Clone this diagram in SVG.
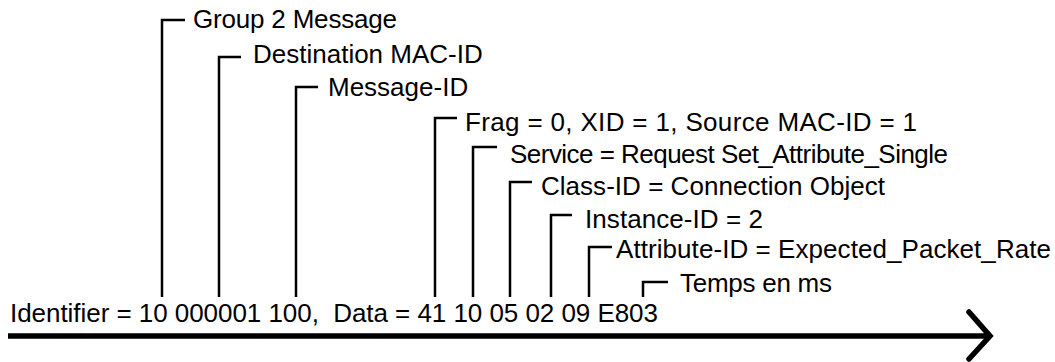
<svg xmlns="http://www.w3.org/2000/svg" width="1055" height="362" viewBox="0 0 1055 362">
<style>
.t{font-family:"Liberation Sans",Arial,sans-serif;font-size:26px;fill:#000;white-space:pre}
.b{fill:none;stroke:#000;stroke-width:2.5}
.a{fill:none;stroke:#000;stroke-width:5.5}
</style>
<rect width="1055" height="362" fill="#fff"/>
<g id="connectors">
<path class="b" d="M162,297V20H185"/>
<path class="b" d="M219,297V57H241"/>
<path class="b" d="M296,297V87H318"/>
<path class="b" d="M435,297V118H457"/>
<path class="b" d="M473,297V147H497"/>
<path class="b" d="M510,297V182H532"/>
<path class="b" d="M551,297V215H572"/>
<path class="b" d="M589,297V247H612"/>
<path class="b" d="M643,297V282H668"/>
<path class="a" d="M8,336H988"/>
<path class="a" stroke-linecap="round" d="M969,312L990,336L969,359"/>
</g>
<g id="n-group"><text class="t" x="193" y="28" textLength="204">Group 2 Message</text></g>
<g id="n-dest"><text class="t" x="253" y="63">Destination MAC-ID</text></g>
<g id="n-msgid"><text class="t" x="328" y="96">Message-ID</text></g>
<g id="n-frag"><text class="t" x="465" y="131" textLength="452">Frag = 0, XID = 1, Source MAC-ID = 1</text></g>
<g id="n-service"><text class="t" x="510" y="163" textLength="438">Service = Request Set_Attribute_Single</text></g>
<g id="n-class"><text class="t" x="541" y="195" textLength="344">Class-ID = Connection Object</text></g>
<g id="n-instance"><text class="t" x="585" y="228" textLength="178">Instance-ID = 2</text></g>
<g id="n-attr"><text class="t" x="616" y="258" textLength="435">Attribute-ID = Expected_Packet_Rate</text></g>
<g id="n-temps"><text class="t" x="680" y="292" textLength="152">Temps en ms</text></g>
<g id="n-ident"><text class="t" x="10" y="322" textLength="648">Identifier = 10 000001 100,  Data = 41 10 05 02 09 E803</text></g>
</svg>
